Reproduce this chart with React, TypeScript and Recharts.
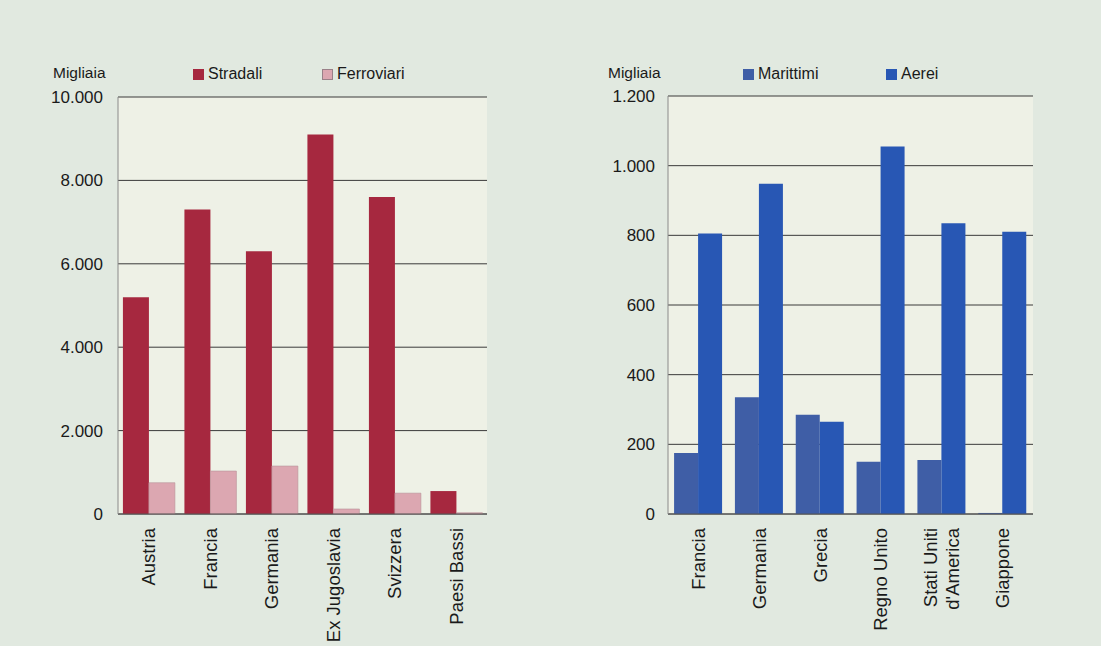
import { BarChart, Bar, XAxis, YAxis, CartesianGrid, Legend } from "recharts"

const countriesLeft = ["Austria", "Francia", "Germania", "Ex Jugoslavia", "Svizzera", "Paesi Bassi"]
const stradali = [5200, 7300, 6300, 9100, 7600, 550]
const ferroviari = [750, 1030, 1150, 120, 500, 30]
const ticksLeft = [0, 2000, 4000, 6000, 8000, 10000]

const countriesRight = ["Francia", "Germania", "Grecia", "Regno Unito", "Stati Uniti\nd'America", "Giappone"]
const marittimi = [175, 335, 285, 150, 155, 3]
const aerei = [805, 948, 265, 1055, 835, 810]
const ticksRight = [0, 200, 400, 600, 800, 1000, 1200]

const leftData = countriesLeft.map((c, i) => ({ name: c, Stradali: stradali[i], Ferroviari: ferroviari[i] }))
const rightData = countriesRight.map((c, i) => ({ name: c, Marittimi: marittimi[i], Aerei: aerei[i] }))

const FONT = "'Liberation Sans', Arial, Helvetica, sans-serif"

// thousands with a dot, also for 4-digit numbers
const fmt = (v: number) => String(v).replace(/\B(?=(\d{3})+(?!\d))/g, ".")

function CountryTick(props: any) {
  const { x, y, payload } = props
  const lines = String(payload.value).split("\n")
  return (
    <text
      transform={`translate(${x},${y}) rotate(-90)`}
      textAnchor="end"
      fontFamily={FONT}
      fontSize={18.5}
      fill="#1a1a1a"
    >
      {lines.length === 1 ? (
        <tspan x={0} dy={6.5}>{lines[0]}</tspan>
      ) : (
        lines.map((l, i) => (
          <tspan key={i} x={0} dy={i === 0 ? -5 : 22}>{l}</tspan>
        ))
      )}
    </text>
  )
}

function makeLegend(items: { label: string; color: string; border?: string }[], start: number, step: number) {
  return () => (
    <div style={{ position: "relative", height: 20, fontFamily: FONT, fontSize: 16, color: "#1a1a1a" }}>
      {items.map((it, i) => (
        <div key={it.label} style={{ position: "absolute", left: start + i * step, top: 0, display: "flex", alignItems: "center" }}>
          <span style={{ display: "inline-block", width: 11, height: 11, background: it.color, border: it.border ? `1px solid ${it.border}` : "none", boxSizing: "border-box", marginRight: 4 }} />
          <span>{it.label}</span>
        </div>
      ))}
    </div>
  )
}

const legendLeft = makeLegend(
  [
    { label: "Stradali", color: "#a6283f" },
    { label: "Ferroviari", color: "#dca7b1", border: "#9a8088" },
  ],
  193,
  129
)
const legendRight = makeLegend(
  [
    { label: "Marittimi", color: "#3f5ea6" },
    { label: "Aerei", color: "#2857b4" },
  ],
  193,
  143
)

const unitStyle: React.CSSProperties = {
  position: "absolute",
  top: 64,
  fontFamily: FONT,
  fontSize: 15.5,
  color: "#1a1a1a",
}

export default function App() {
  return (
    <div style={{ position: "absolute", left: 0, top: 0, width: 1101, height: 646, background: "#e1e9e0", overflow: "hidden" }}>
      <div style={{ ...unitStyle, left: 53 }}>Migliaia</div>
      <div style={{ ...unitStyle, left: 608 }}>Migliaia</div>

      <div style={{ position: "absolute", left: 0, top: 0 }}>
        <BarChart
          width={500}
          height={646}
          data={leftData}
          margin={{ top: 77, right: 13, bottom: 0, left: 0 }}
          barCategoryGap="8%"
          barGap={0}
        >
          <CartesianGrid vertical={false} stroke="#3a3a3a" fill="#eef1e6" fillOpacity={1} />
          <XAxis
            dataKey="name"
            interval={0}
            height={132}
            tickLine={false}
            tickSize={6}
            tickMargin={8}
            axisLine={{ stroke: "#555" }}
            tick={<CountryTick />}
          />
          <YAxis
            width={118}
            domain={[0, 10000]}
            ticks={ticksLeft}
            tickFormatter={fmt}
            tickLine={false}
            tickSize={8}
            tickMargin={7}
            axisLine={{ stroke: "#8a8a8a" }}
            tick={{ fill: "#1a1a1a", fontSize: 17, fontFamily: FONT }}
          />
          <YAxis yAxisId="r" orientation="right" width={0} tick={false} tickLine={false} axisLine={{ stroke: "#8a8a8a" }} />
          <Legend
            verticalAlign="top"
            content={legendLeft}
            wrapperStyle={{ position: "absolute", top: 65, left: 0, width: 500 }}
          />
          <Bar dataKey="Stradali" fill="#a6283f" isAnimationActive={false} />
          <Bar dataKey="Ferroviari" fill="#dca7b1" stroke="#b8949b" strokeWidth={0.6} isAnimationActive={false} />
        </BarChart>
      </div>

      <div style={{ position: "absolute", left: 550, top: 0 }}>
        <BarChart
          width={500}
          height={646}
          data={rightData}
          margin={{ top: 76, right: 17, bottom: 0, left: 0 }}
          barCategoryGap="10%"
          barGap={0}
        >
          <CartesianGrid vertical={false} stroke="#3a3a3a" fill="#eef1e6" fillOpacity={1} />
          <XAxis
            dataKey="name"
            interval={0}
            height={132}
            tickLine={false}
            tickSize={6}
            tickMargin={8}
            axisLine={{ stroke: "#555" }}
            tick={<CountryTick />}
          />
          <YAxis
            width={118}
            domain={[0, 1200]}
            ticks={ticksRight}
            tickFormatter={fmt}
            tickLine={false}
            tickSize={6}
            tickMargin={7}
            axisLine={{ stroke: "#8a8a8a" }}
            tick={{ fill: "#1a1a1a", fontSize: 17, fontFamily: FONT }}
          />
          <YAxis yAxisId="r" orientation="right" width={0} tick={false} tickLine={false} axisLine={{ stroke: "#8a8a8a" }} />
          <Legend
            verticalAlign="top"
            content={legendRight}
            wrapperStyle={{ position: "absolute", top: 65, left: 0, width: 500 }}
          />
          <Bar dataKey="Marittimi" fill="#3f5ea6" isAnimationActive={false} />
          <Bar dataKey="Aerei" fill="#2857b4" isAnimationActive={false} />
        </BarChart>
      </div>
    </div>
  )
}
